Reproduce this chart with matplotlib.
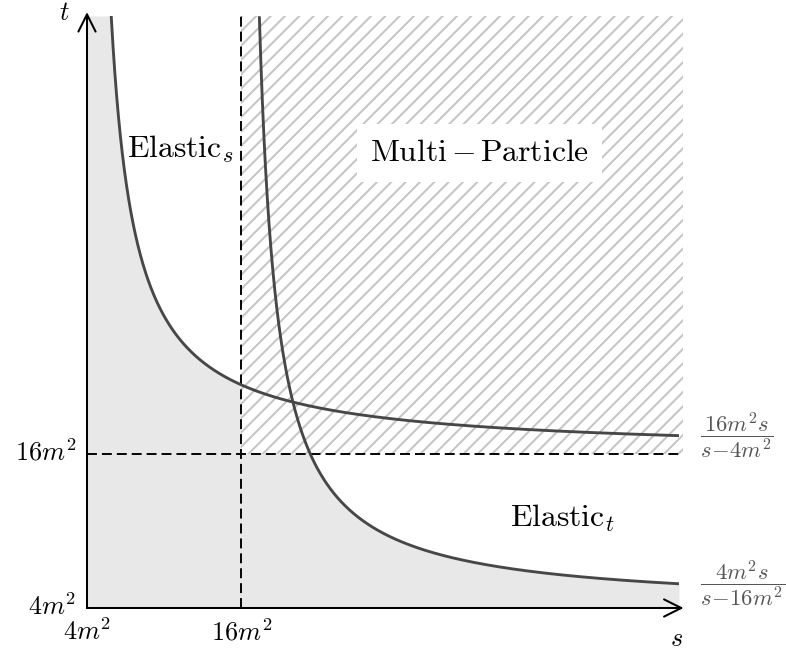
import numpy as np
import matplotlib
matplotlib.use('Agg')
import matplotlib.pyplot as plt
from matplotlib.patches import Rectangle

plt.rcParams['mathtext.fontset'] = 'cm'
plt.rcParams['hatch.linewidth'] = 1.7

# kinematic boundaries, in units of m^2
m2 = 1.0
s_min, s_max = 4 * m2, 50 * m2
t_min, t_max = 4 * m2, 50 * m2
threshold = 16 * m2

# t = a m^2 s / (s - b m^2)
upper_coef = (16, 4)
lower_coef = (4, 16)
upper_label = r'$\dfrac{16m^2s}{s\!-\!4m^2}$'
lower_label = r'$\dfrac{4m^2s}{s\!-\!16m^2}$'

tick_vals = [4 * m2, 16 * m2]
tick_labels = [r'$4m^2$', r'$16m^2$']

region_labels = [r'$\mathrm{Elastic}_s$', r'$\mathrm{Multi}\,{-}\,\mathrm{Particle}$',
                 r'$\mathrm{Elastic}_t$']
region_pos = [(7.1, 39.0), (26.0, 38.7), (36.9, 10.3)]


def boundary(s, coef):
    a, b = coef
    return a * m2 * s / (s - b * m2)


dpi = 86
fig = plt.figure(figsize=(786.01 / dpi, 657.01 / dpi), dpi=dpi)
ax = fig.add_axes([87 / 786, 49 / 657, 592 / 786, 592 / 657])
ax.set_xlim(s_min, s_max)
ax.set_ylim(t_min, t_max)
ax.axis('off')

s_up = np.linspace(s_min + 1e-3, s_max, 4000)
s_lo = np.linspace(lower_coef[1] * m2 + 1e-3, s_max, 4000)
t_up = boundary(s_up, upper_coef)
t_lo = boundary(s_lo, lower_coef)

# shaded elastic region: below both curves
s_fill = np.linspace(s_min + 1e-3, s_max, 6000)
t_fill = boundary(s_fill, upper_coef)
right = s_fill > lower_coef[1] * m2
t_fill[right] = np.minimum(t_fill[right], boundary(s_fill[right], lower_coef))
t_fill = np.clip(t_fill, t_min, t_max)
ax.fill_between(np.r_[s_min, s_fill], t_min, np.r_[t_max, t_fill],
                color='#e8e8e8', lw=0, zorder=1)

# multi-particle quadrant (white face hides the grey fill underneath)
ax.add_patch(Rectangle((threshold, threshold), s_max + 0.3 - threshold, t_max - threshold,
                       facecolor='white', edgecolor='#c6c6c6', hatch='//', lw=0,
                       clip_on=False, zorder=2))

ax.plot(s_up[t_up <= t_max], t_up[t_up <= t_max], color='#474747', lw=2.4, zorder=4)
ax.plot(s_lo[t_lo <= t_max], t_lo[t_lo <= t_max], color='#474747', lw=2.4, zorder=4)

ax.plot([threshold, threshold], [t_min, t_max], 'k--', lw=1.6, dashes=(5.2, 2.6), zorder=3)
ax.plot([s_min, s_max], [threshold, threshold], 'k--', lw=1.6, dashes=(5.2, 2.6), zorder=3)

# axes with arrow heads
arrow = dict(arrowstyle='->,head_length=0.6,head_width=0.3', lw=1.7, color='k',
             mutation_scale=24, shrinkA=0, shrinkB=0)
ax.annotate('', xy=(s_max + 0.35, t_min), xytext=(s_min, t_min),
            arrowprops=arrow, annotation_clip=False, zorder=5)
ax.annotate('', xy=(s_min, t_max + 0.3), xytext=(s_min, t_min),
            arrowprops=arrow, annotation_clip=False, zorder=5)

fs = 22
for v, lab in zip(tick_vals, tick_labels):
    ax.text(v, t_min - 0.9, lab, ha='center', va='top', fontsize=fs, clip_on=False)
    ax.text(s_min - 0.85, v, lab, ha='right', va='center', fontsize=fs, clip_on=False)

ax.text(s_max - 0.2, t_min - 1.4, r'$s$', ha='center', va='top', fontsize=fs)
ax.text(s_min - 1.8, t_max + 0.2, r'$t$', ha='center', va='center', fontsize=fs)

for (x, y), lab in zip(region_pos, region_labels):
    txt = ax.text(x, y, lab, ha='left', va='baseline', fontsize=26.5, zorder=6)
    if 'Multi' in lab:
        txt.set_bbox(dict(facecolor='white', edgecolor='none', pad=11))

ax.text(s_max + 1.6, boundary(s_max, upper_coef), upper_label, ha='left',
        va='center', fontsize=19, color='#555555', clip_on=False)
ax.text(s_max + 1.6, boundary(s_max, lower_coef), lower_label, ha='left',
        va='center', fontsize=19, color='#555555', clip_on=False)

fig.savefig('out.png', dpi=dpi)
